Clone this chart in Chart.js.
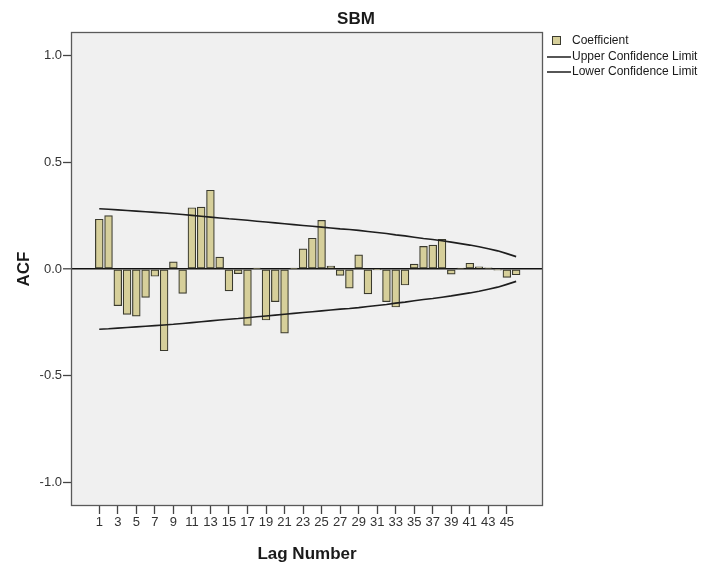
<!DOCTYPE html>
<html>
<head>
<meta charset="utf-8">
<script src="https://cdn.jsdelivr.net/npm/chart.js@4.4.1/dist/chart.umd.min.js"></script>
<style>
html, body { margin: 0; padding: 0; background: #ffffff; }
#wrap { width: 707px; height: 563px; position: relative; }
canvas { display: block; }
</style>
</head>
<body>
<div id="wrap"><canvas id="c" width="707" height="563"></canvas></div>
<script>
// ---- data ----
const chartTitle = 'SBM';
const yAxisTitle = 'ACF';
const xAxisTitle = 'Lag Number';
const seriesNames = ['Coefficient', 'Upper Confidence Limit', 'Lower Confidence Limit'];

const lags = [1,2,3,4,5,6,7,8,9,10,11,12,13,14,15,16,17,18,19,20,21,22,23,24,25,26,27,28,29,30,31,32,33,34,35,36,37,38,39,40,41,42,43,44,45,46];

const coefficient = [0.233, 0.250, -0.172, -0.213, -0.221, -0.133, -0.034, -0.383, 0.033, -0.114,
                     0.287, 0.290, 0.369, 0.056, -0.103, -0.022, -0.264, 0.003, -0.239, -0.153,
                     -0.300, 0.003, 0.094, 0.144, 0.228, 0.014, -0.030, -0.090, 0.066, -0.117,
                     -0.003, -0.153, -0.178, -0.075, 0.023, 0.106, 0.112, 0.139, -0.024, 0.004,
                     0.027, 0.010, 0.005, -0.005, -0.039, -0.027];

const upperLimit = [0.282, 0.280, 0.277, 0.274, 0.271, 0.268, 0.265, 0.262, 0.259, 0.255,
                    0.251, 0.247, 0.243, 0.239, 0.235, 0.232, 0.228, 0.224, 0.220, 0.216,
                    0.212, 0.208, 0.204, 0.200, 0.196, 0.192, 0.188, 0.185, 0.181, 0.176,
                    0.171, 0.166, 0.160, 0.155, 0.149, 0.143, 0.138, 0.132, 0.126, 0.119,
                    0.112, 0.104, 0.095, 0.085, 0.072, 0.058];

const lowerLimit = [-0.282, -0.280, -0.277, -0.274, -0.271, -0.268, -0.265, -0.262, -0.259, -0.255,
                    -0.251, -0.247, -0.243, -0.239, -0.235, -0.232, -0.228, -0.224, -0.220, -0.216,
                    -0.212, -0.208, -0.204, -0.200, -0.196, -0.192, -0.188, -0.185, -0.181, -0.176,
                    -0.171, -0.166, -0.160, -0.155, -0.149, -0.143, -0.138, -0.132, -0.126, -0.119,
                    -0.112, -0.104, -0.095, -0.085, -0.072, -0.058];

const yTickValues = [-1.0, -0.5, 0.0, 0.5, 1.0];
const xTickValues = [1,3,5,7,9,11,13,15,17,19,21,23,25,27,29,31,33,35,37,39,41,43,45];

// ---- styles ----
const FONT = '"Liberation Sans", Arial, Helvetica, sans-serif';
const BAR_FILL = 'rgb(214,207,154)';
const BAR_EDGE = 'rgb(58,58,46)';
const LINE_COLOR = '#1e1e1e';
const PLOT_BG = '#f0f0f0';
const FRAME = '#5a5a5a';

Chart.defaults.font.family = FONT;

const toXY = (vals) => lags.map((l, i) => ({ x: l, y: vals[i] }));

const decorPlugin = {
  id: 'decor',
  beforeDraw(chart) {
    const { ctx, chartArea: a } = chart;
    ctx.save();
    ctx.fillStyle = PLOT_BG;
    ctx.fillRect(a.left, a.top, a.right - a.left, a.bottom - a.top);
    ctx.restore();
  },
  afterDraw(chart) {
    const { ctx, chartArea: a } = chart;
    ctx.save();
    // frame
    ctx.strokeStyle = FRAME;
    ctx.lineWidth = 1.3;
    ctx.strokeRect(a.left + 0.5, a.top + 0.5, a.right - a.left - 1, a.bottom - a.top - 1);
    // title
    ctx.fillStyle = '#1a1a1a';
    ctx.font = 'bold 17px ' + FONT;
    ctx.textAlign = 'center';
    ctx.textBaseline = 'middle';
    ctx.fillText(chartTitle, 356, 19);
    // legend
    ctx.font = '12px ' + FONT;
    ctx.textAlign = 'left';
    ctx.fillStyle = BAR_FILL;
    ctx.fillRect(552, 36, 8.5, 8.5);
    ctx.strokeStyle = BAR_EDGE;
    ctx.lineWidth = 1;
    ctx.strokeRect(552.5, 36.5, 8, 8);
    ctx.fillStyle = '#1a1a1a';
    ctx.fillText(seriesNames[0], 572, 41);
    ctx.strokeStyle = LINE_COLOR;
    ctx.lineWidth = 1.5;
    ctx.beginPath(); ctx.moveTo(547, 57); ctx.lineTo(571, 57); ctx.stroke();
    ctx.fillText(seriesNames[1], 572, 57);
    ctx.beginPath(); ctx.moveTo(547, 72); ctx.lineTo(571, 72); ctx.stroke();
    ctx.fillText(seriesNames[2], 572, 72);
    ctx.restore();
  }
};

new Chart(document.getElementById('c'), {
  type: 'bar',
  data: {
    datasets: [
      {
        type: 'line',
        label: seriesNames[1],
        data: toXY(upperLimit),
        borderColor: LINE_COLOR,
        borderWidth: 1.6,
        pointRadius: 0,
        fill: false,
        tension: 0,
        order: 0
      },
      {
        type: 'line',
        label: seriesNames[2],
        data: toXY(lowerLimit),
        borderColor: LINE_COLOR,
        borderWidth: 1.6,
        pointRadius: 0,
        fill: false,
        tension: 0,
        order: 0
      },
      {
        type: 'bar',
        label: seriesNames[0],
        data: toXY(coefficient),
        backgroundColor: BAR_FILL,
        borderColor: BAR_EDGE,
        borderWidth: 1.2,
        borderSkipped: false,
        barThickness: 7.8,
        order: 1
      }
    ]
  },
  options: {
    responsive: false,
    animation: false,
    devicePixelRatio: 1,
    layout: { padding: { top: 32, right: 164, bottom: 0, left: 0 } },
    plugins: {
      legend: { display: false },
      title: { display: false },
      tooltip: { enabled: false }
    },
    scales: {
      x: {
        type: 'linear',
        min: -2.05,
        max: 48.9,
        offset: false,
        afterBuildTicks(scale) { scale.ticks = xTickValues.map(v => ({ value: v })); },
        afterFit(scale) { scale.height = 57; },
        ticks: {
          autoSkip: false,
          maxRotation: 0,
          color: '#333',
          font: { size: 13 },
          padding: 1,
          callback: (v) => String(v)
        },
        grid: {
          offset: false,
          drawOnChartArea: false,
          drawTicks: true,
          tickLength: 8,
          tickColor: '#444',
          tickWidth: 1.3
        },
        border: { display: false },
        title: {
          display: true,
          text: xAxisTitle,
          color: '#1a1a1a',
          font: { size: 17, weight: 'bold', lineHeight: 1 },
          padding: { top: 0, bottom: 0.5 }
        }
      },
      y: {
        type: 'linear',
        min: -1.11,
        max: 1.11,
        afterBuildTicks(scale) { scale.ticks = yTickValues.map(v => ({ value: v })); },
        afterFit(scale) { scale.width = 71; },
        ticks: {
          color: '#333',
          font: { size: 13 },
          padding: 1,
          callback: (v) => Number(v).toFixed(1)
        },
        grid: {
          color: (c) => (c.tick && c.tick.value === 0 ? '#111' : 'rgba(0,0,0,0)'),
          lineWidth: (c) => (c.tick && c.tick.value === 0 ? 1.6 : 1),
          drawTicks: true,
          tickLength: 8,
          tickColor: '#444',
          tickWidth: 1.3
        },
        border: { display: false },
        title: {
          display: true,
          text: yAxisTitle,
          color: '#1a1a1a',
          font: { size: 17, weight: 'bold', lineHeight: 1 },
          padding: { top: 16, bottom: 0 }
        }
      }
    }
  },
  plugins: [decorPlugin]
});
</script>
</body>
</html>
